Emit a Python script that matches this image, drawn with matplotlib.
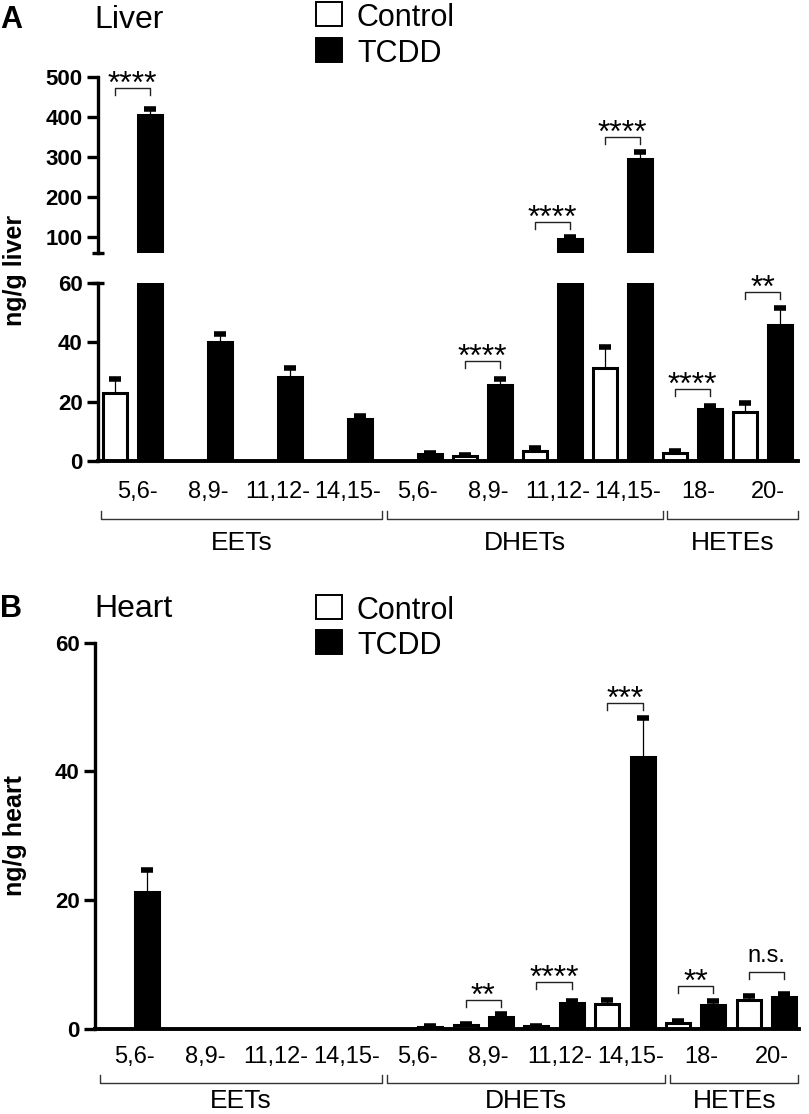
import matplotlib
matplotlib.use('Agg')
import matplotlib.pyplot as plt
from matplotlib.patches import Rectangle
from matplotlib import transforms
import numpy as np

plt.rcParams['font.family'] = ['Liberation Sans', 'DejaVu Sans']

# ---------------- data ----------------
categories = ['5,6-', '8,9-', '11,12-', '14,15-', '5,6-', '8,9-', '11,12-', '14,15-', '18-', '20-']
groups = ['EETs', 'DHETs', 'HETEs']
group_sizes = [4, 4, 2]
series = ['Control', 'TCDD']

liver_control = [22.8, 0, 0, 0, 0, 1.8, 3.5, 31.4, 2.8, 16.6]
liver_control_err = [5.0, 0, 0, 0, 0, 0.3, 0.9, 7.1, 0.7, 2.9]
liver_tcdd = [404, 40.2, 28.3, 14.0, 2.3, 25.6, 96, 296, 17.6, 45.8]
liver_tcdd_err = [17, 2.5, 3.0, 1.2, 0.4, 2.0, 5, 17, 1.0, 5.9]

heart_control = [0, 0, 0, 0, 0, 0.6, 0.4, 3.9, 1.0, 4.5]
heart_control_err = [0, 0, 0, 0, 0, 0.1, 0.1, 0.6, 0.3, 0.6]
heart_tcdd = [21.3, 0, 0, 0, 0.3, 1.9, 4.0, 42.3, 3.8, 4.9]
heart_tcdd_err = [3.4, 0, 0, 0, 0.1, 0.4, 0.4, 6.0, 0.5, 0.5]

liver_sig_idx = [0, 5, 6, 7, 8, 9]
liver_sig_text = ['****', '****', '****', '****', '****', '**']
liver_sig_y = [472, 33.7, 138, 349, 24.2, 57.1]

heart_sig_idx = [5, 6, 7, 8, 9]
heart_sig_text = ['**', '****', '***', '**', 'n.s.']
heart_sig_y = [4.5, 7.25, 50.7, 6.7, 8.8]

liver_upper_ticks = [100, 200, 300, 400, 500]
liver_lower_ticks = [0, 20, 40, 60]
heart_ticks = [0, 20, 40, 60]

# ---------------- layout ----------------
W, H = 809, 1114
DPI = 100
PT = 72.0 / DPI  # points per pixel

fig = plt.figure(figsize=(W / DPI, H / DPI), dpi=DPI)


def rect(left, top, right, bottom):
    return [left / W, 1 - bottom / H, (right - left) / W, (bottom - top) / H]


ax_up = fig.add_axes(rect(98, 77, 798, 253))
ax_lo = fig.add_axes(rect(98, 283, 798, 461))
ax_h = fig.add_axes(rect(95, 642.7, 799, 1029))

ax_up.set_ylim(60, 500)
ax_lo.set_ylim(0, 60)
ax_h.set_ylim(0, 60)
for a in (ax_up, ax_lo):
    a.set_xlim(-0.486, 19.51)
ax_h.set_xlim(-0.47, 19.42)

BAR_W = 0.68
n = len(categories)
xc = np.arange(n) * 2
xt = np.arange(n) * 2 + 1


def style_axis(ax, ticks, show_bottom=True):
    for s in ('top', 'right'):
        ax.spines[s].set_visible(False)
    ax.spines['left'].set_linewidth(2.4)
    ax.spines['bottom'].set_linewidth(2.8)
    ax.spines['bottom'].set_visible(show_bottom)
    ax.set_xticks([])
    ax.set_yticks(ticks)
    ax.tick_params(axis='y', length=11 * PT, width=2.4, direction='out',
                   labelsize=16, pad=3)
    for lab in ax.get_yticklabels():
        lab.set_fontweight('bold')
    ax.patch.set_alpha(0)


style_axis(ax_up, liver_upper_ticks, show_bottom=False)
style_axis(ax_lo, liver_lower_ticks)
style_axis(ax_h, heart_ticks)


def draw_bars(ax, ctrl, ctrl_err, tcdd, tcdd_err):
    ax.bar(xc, ctrl, width=BAR_W, color='white', edgecolor='black', linewidth=2.2, zorder=2)
    ax.bar(xt, tcdd, width=BAR_W, color='black', edgecolor='black', linewidth=2.2, zorder=2)
    ybot = ax.get_ylim()[0]
    for xs, v, e in ((xc, ctrl, ctrl_err), (xt, tcdd, tcdd_err)):
        v = np.asarray(v, float)
        e = np.asarray(e, float)
        m = (v > 0) & (v + e > ybot)
        ax.vlines(xs[m], v[m], v[m] + e[m], color='black', linewidth=0.9, zorder=3)
        ax.plot(xs[m], v[m] + e[m], ls='none', marker='_', ms=8.8, mew=4.0,
                color='black', zorder=3)


draw_bars(ax_up, liver_control, liver_control_err, liver_tcdd, liver_tcdd_err)
draw_bars(ax_lo, liver_control, liver_control_err, liver_tcdd, liver_tcdd_err)
draw_bars(ax_h, heart_control, heart_control_err, heart_tcdd, heart_tcdd_err)

# axis break marks
for a, yv in ((ax_up, 60), (ax_lo, 60)):
    tr = transforms.blended_transform_factory(a.transAxes, a.transData)
    a.plot([0], [yv], marker='_', ms=12 * PT, mew=2.4, color='black',
           transform=tr, clip_on=False, zorder=5)


def ax_hpx(ax):
    return ax.get_position().height * H


def sig_bracket(ax, i, yv, text):
    x0, x1 = xc[i], xt[i]
    ylo, yhi = ax.get_ylim()
    d = 7 * (yhi - ylo) / ax_hpx(ax)
    ax.plot([x0, x0, x1, x1], [yv - d, yv, yv, yv - d], color='#222222',
            linewidth=1.0, clip_on=False, zorder=4)
    if text == 'n.s.':
        ax.annotate(text, xy=((x0 + x1) / 2, yv), xytext=(0, 10.5 * PT),
                    textcoords='offset points', ha='center', va='baseline',
                    fontsize=17, annotation_clip=False)
    else:
        ax.annotate(text, xy=((x0 + x1) / 2, yv), xytext=(0, -5.0 * PT),
                    textcoords='offset points', ha='center', va='baseline',
                    fontsize=23, annotation_clip=False)


for i, t, yv in zip(liver_sig_idx, liver_sig_text, liver_sig_y):
    sig_bracket(ax_up if yv > 60 else ax_lo, i, yv, t)
for i, t, yv in zip(heart_sig_idx, heart_sig_text, heart_sig_y):
    sig_bracket(ax_h, i, yv, t)


def category_axis(ax, lab_off, br_off, tick_off, grp_off, start0, end_last):
    hpx = ax_hpx(ax)
    for i, c in enumerate(categories):
        ax.annotate(c, xy=(i * 2 + 0.5 + 0.15, 0), xycoords=('data', 'axes fraction'),
                    xytext=(0, -lab_off * PT), textcoords='offset points',
                    ha='center', va='baseline', fontsize=17, annotation_clip=False)
    tr = transforms.blended_transform_factory(ax.transData, ax.transAxes)
    first = 0
    for gi, (g, sz) in enumerate(zip(groups, group_sizes)):
        last = first + sz - 1
        a = start0 if gi == 0 else first * 2 - 0.22
        b = end_last if gi == len(groups) - 1 else (last + 1) * 2 - 0.36
        ax.plot([a, a, b, b], [-tick_off / hpx, -br_off / hpx, -br_off / hpx, -tick_off / hpx],
                transform=tr, color='#333333', linewidth=1.0, clip_on=False)
        ax.annotate(g, xy=((a + b) / 2, 0), xycoords=('data', 'axes fraction'),
                    xytext=(0, -grp_off * PT), textcoords='offset points',
                    ha='center', va='baseline', fontsize=19, annotation_clip=False)
        first = last + 1


category_axis(ax_lo, 37, 58, 50, 89, -0.4, 19.5)
category_axis(ax_h, 34, 54, 46, 79, -0.33, 19.4)

# y labels
fig.text(15 / W, 1 - 270 / H, 'ng/g liver', rotation=90, ha='center', va='center',
         fontsize=18, fontweight='bold')
fig.text(15 / W, 1 - 836 / H, 'ng/g heart', rotation=90, ha='center', va='center',
         fontsize=18, fontweight='bold')

# panel letters & titles
fig.text(0 / W, 1 - 28 / H, 'A', fontsize=22, fontweight='bold', ha='left', va='baseline')
fig.text(94 / W, 1 - 28 / H, 'Liver', fontsize=23, ha='left', va='baseline')
fig.text(0 / W, 1 - 617 / H, 'B', fontsize=22, fontweight='bold', ha='left', va='baseline')
fig.text(94 / W, 1 - 617 / H, 'Heart', fontsize=23, ha='left', va='baseline')


# legends
def legend(top_c, top_t):
    for (top, fc, lab) in ((top_c, 'white', series[0]), (top_t, 'black', series[1])):
        fig.add_artist(Rectangle((316 / W, 1 - (top + 24) / H), 26 / W, 24 / H,
                                 transform=fig.transFigure, facecolor=fc,
                                 edgecolor='black', linewidth=1.4))
        fig.text(357 / W, 1 - (top + 24) / H, lab, fontsize=22, ha='left', va='baseline')


legend(2, 38)
legend(595, 630)

fig.savefig('out.png', dpi=DPI)
